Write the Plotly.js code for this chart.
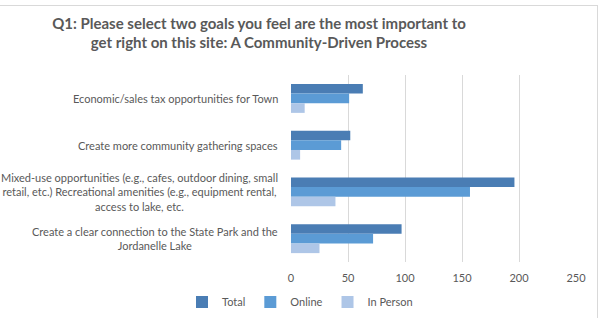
<!DOCTYPE html>
<html><head><meta charset="utf-8">
<script src="https://cdn.plot.ly/plotly-3.0.1.min.js"></script>
<style>
html,body{margin:0;padding:0;background:#fff;}
#wrap{position:relative;width:601px;height:318px;overflow:hidden;}
#chart{width:601px;height:318px;}
#frame{position:absolute;left:0;top:5px;width:597px;height:330px;border-top:1px solid #d9d9d9;border-right:1px solid #d9d9d9;pointer-events:none;}
</style></head>
<body><div id="wrap"><div id="chart"></div><div id="frame"></div></div>
<script>
const categories = [
  "Economic/sales tax opportunities for Town",
  "Create more community gathering spaces",
  "Mixed-use opportunities (e.g., cafes, outdoor dining, small<br>retail, etc.) Recreational amenities (e.g., equipment rental,<br>access to lake, etc.",
  "Create a clear connection to the State Park and the<br>Jordanelle Lake"
];
const seriesNames = ["Total", "Online", "In Person"];
const totalValues = [63, 52, 196, 97];
const onlineValues = [51, 44, 157, 72];
const inPersonValues = [12, 8, 39, 25];
const xTicks = [0, 50, 100, 150, 200, 250];

const colors = ["#4a7db4", "#5b9bd5", "#aec6e7"];
const allValues = [totalValues, onlineValues, inPersonValues];
const textColor = "#595959";
const font = "Lato, 'Open Sans', sans-serif";

const traces = allValues.map((vals, i) => ({
  type: "bar", orientation: "h",
  name: seriesNames[i],
  x: vals, y: categories,
  marker: {color: colors[i]},
  hoverinfo: "x+name"
}));

const annotations = categories.map(c => ({
  text: c, xref: "paper", yref: "y", x: -0.04, y: c,
  xanchor: "right", yanchor: "middle", align: "center",
  showarrow: false, font: {family: font, size: 11, color: textColor}
}));

const layout = {
  width: 601, height: 318,
  margin: {l: 291, r: 25, t: 75, b: 56},
  paper_bgcolor: "#fff", plot_bgcolor: "#fff",
  barmode: "group", bargap: 0.38, bargroupgap: 0,
  title: {
    text: "Q1: Please select two goals you feel are the most important to<br>get right on this site: A Community-Driven Process",
    font: {family: font, size: 15, color: textColor, weight: "bold"},
    x: 259/601, xanchor: "center", xref: "container",
    y: 0.91, yanchor: "top", yref: "container"
  },
  xaxis: {
    range: [0, 250], tickvals: xTicks, ticktext: xTicks.map(String),
    showgrid: true, gridcolor: "#d9d9d9", gridwidth: 1,
    zeroline: false, showline: false, ticks: "", ticklabelstandoff: 8,
    tickfont: {family: font, size: 11, color: textColor},
    fixedrange: true
  },
  yaxis: {
    autorange: "reversed", showticklabels: false, ticks: "",
    showgrid: false, zeroline: false, showline: false, fixedrange: true
  },
  showlegend: true,
  legend: {
    orientation: "h", xref: "container", x: 300/601, xanchor: "center",
    yref: "container", y: 1 - 302/318, yanchor: "middle",
    font: {family: font, size: 11, color: textColor},
    traceorder: "normal", itemwidth: 30
  },
  annotations: annotations
};

Plotly.newPlot("chart", traces, layout, {displayModeBar: false, staticPlot: true});
</script></body></html>
